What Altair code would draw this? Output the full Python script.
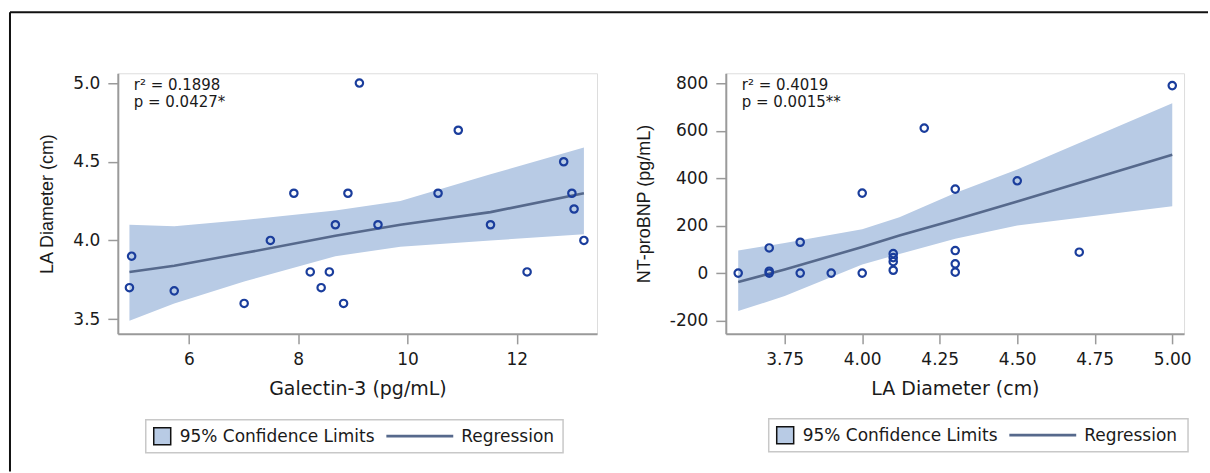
import altair as alt
import pandas as pd

# ---------------- data ----------------
# Left panel: Galectin-3 vs LA diameter
gal_x = [4.95, 4.91, 5.73, 7.01, 7.49, 7.92, 8.22, 8.42, 8.57, 8.68, 8.83,
         8.91, 9.12, 9.46, 10.56, 10.93, 11.52, 12.19, 12.86, 13.01, 13.05, 13.23]
gal_la = [3.9, 3.7, 3.68, 3.6, 4.0, 4.3, 3.8, 3.7, 3.8, 4.1, 3.6,
          4.3, 5.0, 4.1, 4.3, 4.7, 4.1, 3.8, 4.5, 4.3, 4.2, 4.0]
band1_x = [4.91, 5.73, 7.01, 8.68, 9.87, 11.52, 13.23]
band1_lo = [3.49, 3.60, 3.74, 3.90, 3.96, 4.00, 4.04]
band1_fit = [3.80, 3.84, 3.92, 4.03, 4.10, 4.18, 4.30]
band1_hi = [4.10, 4.09, 4.13, 4.19, 4.25, 4.42, 4.59]

# Right panel: LA diameter vs NT-proBNP
la_x = [3.6, 3.7, 3.7, 3.7, 3.8, 3.8, 3.9, 4.0, 4.0, 4.1, 4.1, 4.1, 4.1,
        4.2, 4.3, 4.3, 4.3, 4.3, 4.5, 4.7, 5.0]
bnp_y = [0, 106, 0, 8, 130, 0, 0, 337, 0, 82, 65, 48, 12,
         611, 354, 95, 39, 4, 389, 88, 790]
band2_x = [3.60, 3.75, 4.00, 4.12, 4.30, 4.50, 5.00]
band2_lo = [-160, -97, 36, 80, 145, 201, 282]
band2_fit = [-38, 15, 110, 158, 225, 302, 499]
band2_hi = [95, 127, 185, 235, 337, 436, 716]

ann1 = ["r\u00b2 = 0.1898", "p = 0.0427*"]
ann2 = ["r\u00b2 = 0.4019", "p = 0.0015**"]
legend_labels = ["95% Confidence Limits", "Regression"]

BAND = "#b8cbe5"
LINE = "#56698c"
PT = "#1a3d9c"
AXC = "#9a9a9a"
TXT = "#1a1a1a"
HFONT = "DejaVu Sans"
VFONT = "Liberation Sans"


def one(**kw):
    return alt.Data(values=[kw])


def panel(px, py, bx, blo, bfit, bhi, xdom, ydom, xticks, yticks, xfmt, ylexpr,
          xtitle, ytitle, w, h, ann, leg, ytp, frame=False):
    pts = pd.DataFrame({"x": px, "y": py})
    band = pd.DataFrame({"x": bx, "lo": blo, "fit": bfit, "hi": bhi})
    xs = alt.Scale(domain=xdom, nice=False, zero=False)
    ys = alt.Scale(domain=ydom, nice=False, zero=False)
    xax = alt.Axis(values=xticks, format=xfmt, title=xtitle, grid=False, tickSize=10,
                   labelPadding=8, titlePadding=12, labelFont=HFONT, labelFontSize=17,
                   titleFont=HFONT, titleFontSize=19, titleFontWeight="normal",
                   domainColor=AXC, domainWidth=2, tickColor=AXC, tickWidth=1.5,
                   labelColor=TXT, titleColor=TXT)
    yax = alt.Axis(values=yticks, labelExpr=ylexpr, title=ytitle, grid=False, tickSize=10,
                   labelPadding=8, titlePadding=ytp, labelFont=HFONT, labelFontSize=17,
                   titleFont=VFONT, titleFontSize=18, titleFontWeight="normal",
                   domainColor=AXC, domainWidth=2, tickColor=AXC, tickWidth=1.5,
                   labelColor=TXT, titleColor=TXT)

    area = alt.Chart(band).mark_area(color=BAND, opacity=1).encode(
        x=alt.X("x:Q", scale=xs, axis=xax),
        y=alt.Y("lo:Q", scale=ys, axis=yax),
        y2="hi:Q")
    line = alt.Chart(band).mark_line(color=LINE, strokeWidth=2.6).encode(
        x="x:Q", y="fit:Q")
    points = alt.Chart(pts).mark_point(shape="circle", filled=False, color=PT,
                                       size=55, strokeWidth=2.2, opacity=1).encode(
        x="x:Q", y="y:Q")

    layers = [area, line, points]
    ax0 = 16
    for i, s in enumerate(ann):
        layers.append(alt.Chart(one(t=s)).mark_text(
            align="left", baseline="alphabetic", font=HFONT, fontSize=15, color=TXT
        ).encode(x=alt.value(ax0), y=alt.value(17 + 17 * i), text="t:N"))

    lx0, lx1, ly0, ly1 = leg
    cy = (ly0 + ly1) / 2
    layers.append(alt.Chart(one(a=1)).mark_rect(fill="white", stroke="#c8c8c8", strokeWidth=1.5).encode(
        x=alt.value(lx0), x2=alt.value(lx1), y=alt.value(ly0), y2=alt.value(ly1)))
    layers.append(alt.Chart(one(a=1)).mark_rect(fill=BAND, stroke="#111111", strokeWidth=1.5).encode(
        x=alt.value(lx0 + 8), x2=alt.value(lx0 + 25), y=alt.value(cy - 8.5), y2=alt.value(cy + 8.5)))
    layers.append(alt.Chart(one(t=legend_labels[0])).mark_text(
        align="left", baseline="middle", font=HFONT, fontSize=17, color=TXT
    ).encode(x=alt.value(lx0 + 34), y=alt.value(cy + 1), text="t:N"))
    layers.append(alt.Chart(one(a=1)).mark_rule(color=LINE, strokeWidth=2.6).encode(
        x=alt.value(lx0 + 241), x2=alt.value(lx0 + 308), y=alt.value(cy)))
    layers.append(alt.Chart(one(t=legend_labels[1])).mark_text(
        align="left", baseline="middle", font=HFONT, fontSize=17, color=TXT
    ).encode(x=alt.value(lx0 + 316), y=alt.value(cy + 1), text="t:N"))

    if frame:
        layers.append(alt.Chart(one(a=1)).mark_rule(color="#111111", strokeWidth=2).encode(
            x=alt.value(-108), y=alt.value(-61), y2=alt.value(399)))
        layers.append(alt.Chart(one(a=1)).mark_rule(color="#111111", strokeWidth=2).encode(
            x=alt.value(-108), x2=alt.value(1092), y=alt.value(-61)))

    return alt.layer(*layers).properties(width=w, height=h)


left = panel(gal_x, gal_la, band1_x, band1_lo, band1_fit, band1_hi,
             [4.697, 13.47], [3.407, 5.062], [6, 8, 10, 12], [3.5, 4.0, 4.5, 5.0],
             "d", "format(datum.value, '.1f')", "Galectin-3 (pg/mL)", "LA Diameter (cm)", 480, 261,
             ann1, (28, 446, 347, 380), 16, frame=True)
right = panel(la_x, bnp_y, band2_x, band2_lo, band2_fit, band2_hi,
              [3.56, 5.038], [-256, 842], [3.75, 4.0, 4.25, 4.5, 4.75, 5.0],
              [-200, 0, 200, 400, 600, 800], ".2f",
              "datum.value < 0 ? '-' + format(-datum.value, 'd') : format(datum.value, 'd')",
              "LA Diameter (cm)", "NT-proBNP (pg/mL)", 459, 261,
              ann2, (43, 463, 346, 379), 16)

chart = alt.hconcat(left, right, spacing=129, bounds="flush").properties(
    padding={"left": 8, "top": 10, "right": 0, "bottom": 0}
).configure_view(stroke="#b4b4b4", strokeWidth=1.5).configure(background="white")

chart.save("out.html", embed_options={"renderer": "svg", "actions": False})
